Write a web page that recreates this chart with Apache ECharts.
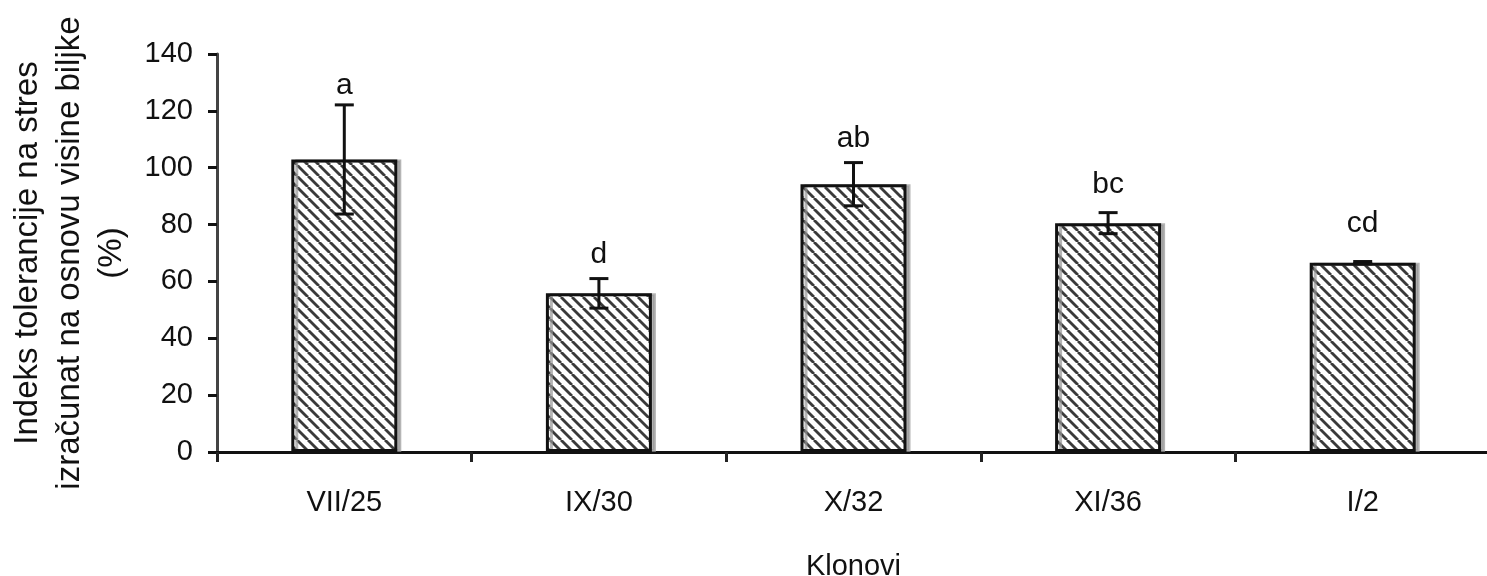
<!DOCTYPE html>
<html>
<head>
<meta charset="utf-8">
<title>Indeks tolerancije na stres</title>
<script src="https://cdn.jsdelivr.net/npm/echarts@6/dist/echarts.min.js"></script>
<style>
  html, body { margin: 0; padding: 0; background: #fff; }
  #chart { width: 1487px; height: 576px; }
</style>
</head>
<body>
<div id="chart"></div>
<script>
// Clones and their stress tolerance index (%)
const categories = ['VII/25', 'IX/30', 'X/32', 'XI/36', 'I/2'];
const meanValues = [102.9, 55.8, 94.2, 80.5, 66.6];
const errorValues = [19.2, 5.2, 7.6, 3.7, 0.4];
// Significance letters and the height at which each is written
const groupLetters = ['a', 'd', 'ab', 'bc', 'cd'];
const letterHeights = [128.8, 69.3, 110.1, 93.9, 80.2];
const yTicks = { min: 0, max: 140, interval: 20 };

const FONT = '"Liberation Sans", Arial, sans-serif';

// Diagonal hatch tile for the bar fill
function hatchTile() {
  const s = 11;
  const c = document.createElement('canvas');
  c.width = s; c.height = s;
  const ctx = c.getContext('2d');
  ctx.fillStyle = '#ffffff';
  ctx.fillRect(0, 0, s, s);
  ctx.strokeStyle = '#3a3a3a';
  ctx.lineWidth = 2.8;
  for (let k = -1; k <= 1; k++) {
    ctx.beginPath();
    ctx.moveTo(k * s, 0);
    ctx.lineTo(k * s + s, s);
    ctx.stroke();
  }
  return c;
}

const chart = echarts.init(document.getElementById('chart'), null, { renderer: 'canvas' });

const errorData = meanValues.map((v, i) => [i, v - errorValues[i], v + errorValues[i]]);
const letterData = letterHeights.map((h, i) => [i, h]);

chart.setOption({
  animation: false,
  backgroundColor: '#ffffff',
  grid: { left: 217, top: 54, width: 1273, height: 398, containLabel: false, outerBoundsMode: 'none' },
  xAxis: {
    type: 'category',
    data: categories,
    boundaryGap: true,
    name: 'Klonovi',
    nameLocation: 'middle',
    nameGap: 100,
    nameTextStyle: { fontFamily: FONT, fontSize: 29, color: '#111' },
    axisLine: { lineStyle: { color: '#111', width: 3 } },
    axisTick: { show: true, inside: false, length: 10, alignWithLabel: false, lineStyle: { color: '#222', width: 3 } },
    axisLabel: { fontFamily: FONT, fontSize: 29, color: '#111', margin: 36 },
    splitLine: { show: false }
  },
  yAxis: {
    type: 'value',
    min: yTicks.min,
    max: yTicks.max,
    interval: yTicks.interval,
    name: 'Indeks tolerancije na stres\nizračunat na osnovu visine biljke\n(%)',
    nameLocation: 'middle',
    nameRotate: 90,
    nameGap: 84,
    nameTextStyle: { fontFamily: FONT, fontSize: 33, color: '#111', lineHeight: 42, align: 'center' },
    axisLine: { show: true, lineStyle: { color: '#444', width: 3 } },
    axisTick: { show: true, inside: false, length: 9, lineStyle: { color: '#111', width: 3 } },
    axisLabel: { fontFamily: FONT, fontSize: 29, color: '#111', margin: 24 },
    splitLine: { show: false }
  },
  series: [
    {
      type: 'bar',
      data: meanValues,
      barWidth: 106,
      itemStyle: {
        color: { image: hatchTile(), repeat: 'repeat' },
        borderColor: '#111',
        borderWidth: 3,
        shadowColor: 'rgba(150,150,150,0.7)',
        shadowOffsetX: 4,
        shadowOffsetY: 0,
        shadowBlur: 0
      },
      z: 2
    },
    {
      type: 'custom',
      data: errorData,
      z: 5,
      renderItem: function (params, api) {
        const x = api.value(0);
        const lo = api.coord([x, api.value(1)]);
        const hi = api.coord([x, api.value(2)]);
        const hw = 9.5;
        const style = { stroke: '#111', lineWidth: 3 };
        return {
          type: 'group',
          children: [
            { type: 'line', shape: { x1: hi[0], y1: hi[1], x2: lo[0], y2: lo[1] }, style: style },
            { type: 'line', shape: { x1: hi[0] - hw, y1: hi[1], x2: hi[0] + hw, y2: hi[1] }, style: style },
            { type: 'line', shape: { x1: lo[0] - hw, y1: lo[1], x2: lo[0] + hw, y2: lo[1] }, style: style }
          ]
        };
      }
    },
    {
      type: 'scatter',
      data: letterData,
      symbolSize: 0,
      z: 6,
      itemStyle: { opacity: 1 },
      label: {
        show: true,
        position: 'inside',
        fontFamily: FONT,
        fontSize: 30,
        color: '#111',
        formatter: function (p) { return groupLetters[p.dataIndex]; }
      }
    }
  ]
});
</script>
</body>
</html>
